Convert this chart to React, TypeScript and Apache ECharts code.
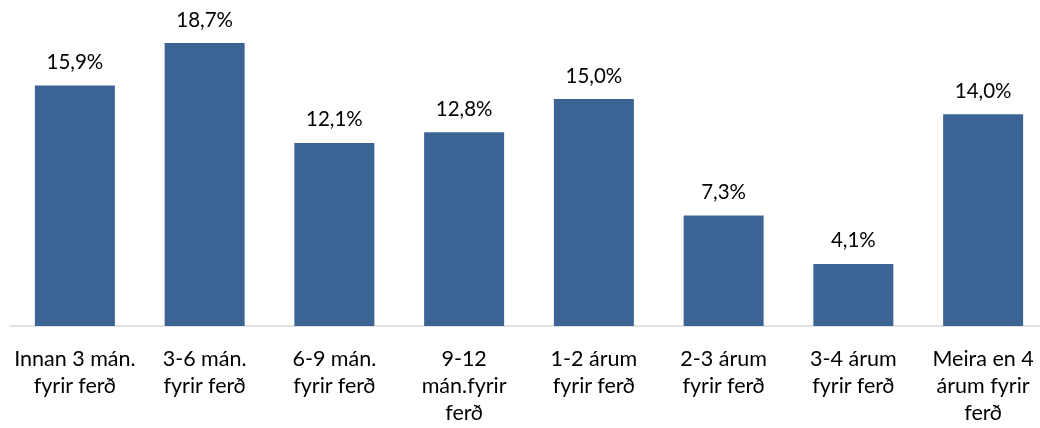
import React, { useEffect, useRef } from "react";
import * as echarts from "echarts";

const categories = [
  "Innan 3 mán.\nfyrir ferð",
  "3-6 mán.\nfyrir ferð",
  "6-9 mán.\nfyrir ferð",
  "9-12\nmán.fyrir\nferð",
  "1-2 árum\nfyrir ferð",
  "2-3 árum\nfyrir ferð",
  "3-4 árum\nfyrir ferð",
  "Meira en 4\nárum fyrir\nferð",
];
const values = [15.9, 18.7, 12.1, 12.8, 15.0, 7.3, 4.1, 14.0];

const FONT = "Lato, 'Open Sans', sans-serif";

export default function App() {
  const ref = useRef<HTMLDivElement>(null);
  useEffect(() => {
    if (!ref.current) return;
    const chart = echarts.init(ref.current, null, { renderer: "svg" });
    chart.setOption({
      animation: false,
      grid: {
        left: 10,
        width: 1038,
        top: 23.4,
        height: 302.6,
        containLabel: false,
        outerBoundsMode: "none",
      },
      xAxis: {
        type: "category",
        data: categories,
        axisLine: { lineStyle: { color: "#D9D9D9", width: 1.5 } },
        axisTick: { show: false },
        axisLabel: {
          interval: 0,
          color: "#000",
          fontSize: 21.5,
          fontFamily: FONT,
          lineHeight: 27,
          margin: 18,
        },
      },
      yAxis: {
        type: "value",
        min: 0,
        max: 20,
        show: false,
        splitLine: { show: false },
      },
      series: [
        {
          type: "bar",
          data: values,
          barWidth: 80,
          itemStyle: { color: "#3B6494" },
          label: {
            show: true,
            position: "top",
            distance: 14,
            color: "#000",
            fontSize: 20.5,
            fontFamily: FONT,
            formatter: (p: any) => p.value.toFixed(1).replace(".", ",") + "%",
          },
        },
      ],
    });
    return () => chart.dispose();
  }, []);
  return (
    <div
      ref={ref}
      style={{ position: "fixed", left: 0, top: 0, width: 1040, height: 428 }}
    />
  );
}
